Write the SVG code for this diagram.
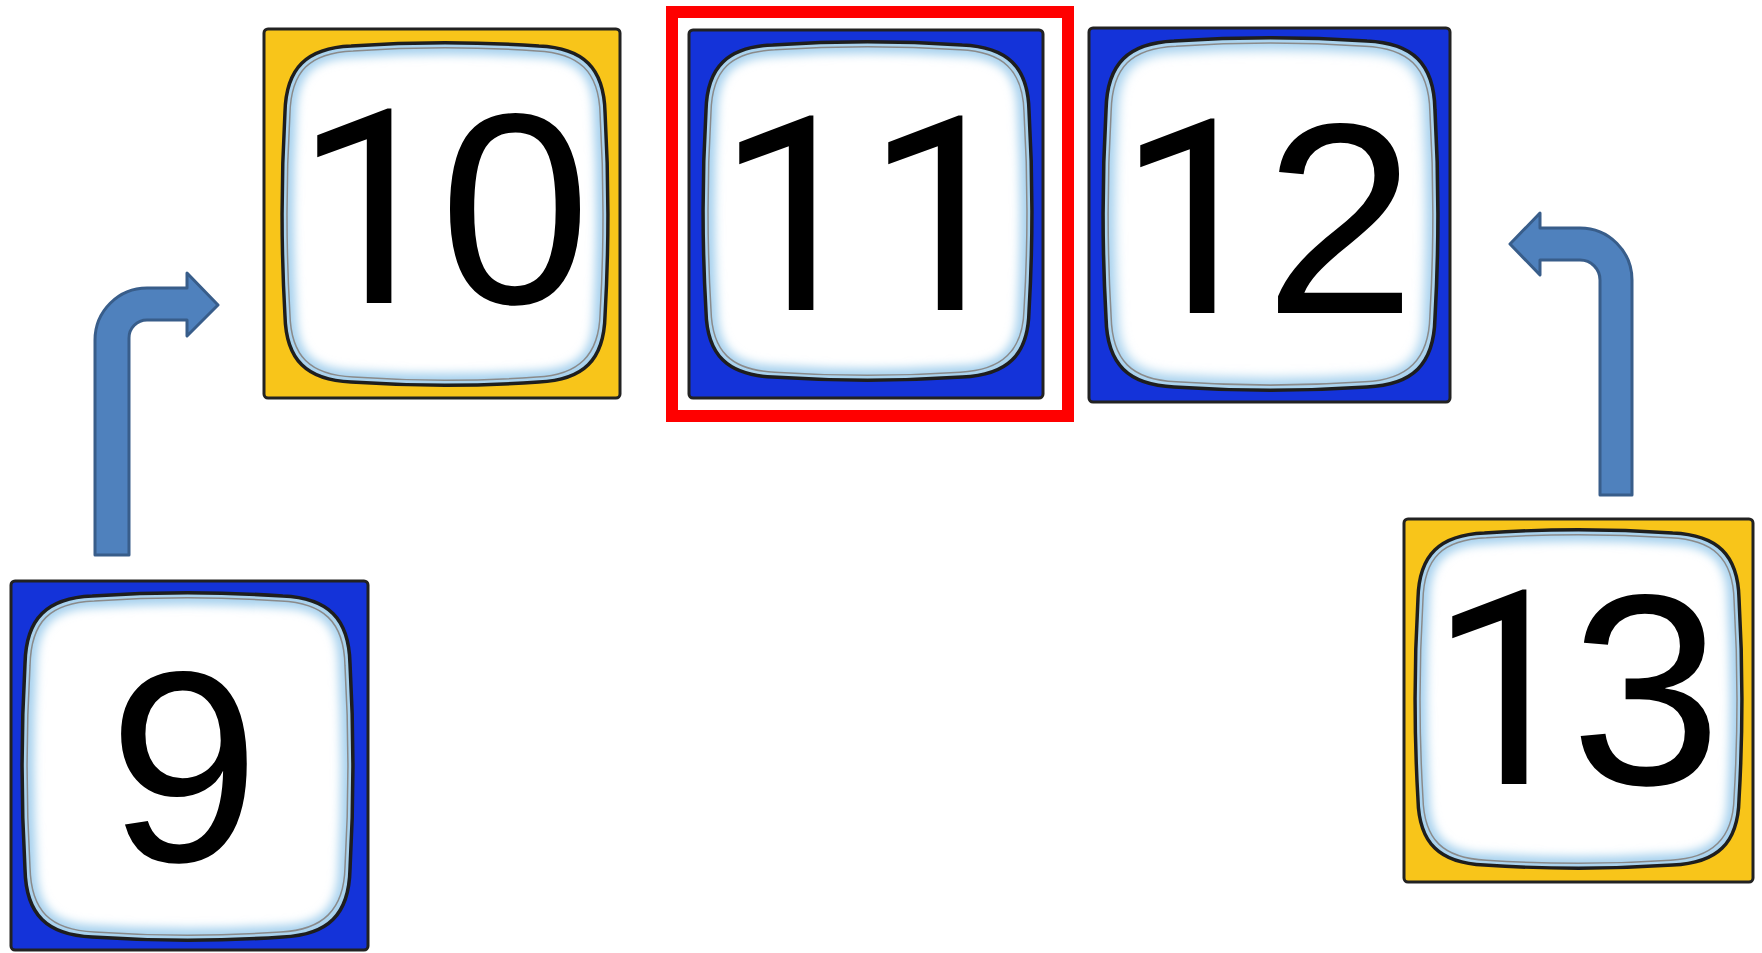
<svg xmlns="http://www.w3.org/2000/svg" width="1762" height="953" viewBox="0 0 1762 953">
<style>
.card-y{fill:#f8c51a;stroke:#222;stroke-width:3}
.card-b{fill:#1433d9;stroke:#222;stroke-width:3}
.num{font-family:"Liberation Sans",Arial,sans-serif;font-size:272px;fill:#000;text-anchor:middle}
.one{font-family:Roboto,"Liberation Sans",Arial,sans-serif}
.arrow{fill:#4f81bd;stroke:#385d8a;stroke-width:3;stroke-linejoin:round}
</style>
<defs>
<filter id="blur" x="-0.1" y="-0.1" width="1.2" height="1.2">
<feGaussianBlur stdDeviation="5"/>
</filter>
<path id="sq" d="M 70 3 C 130 -1, 200 -1, 260 3 C 305 5, 326 25, 327 70 C 331 140, 331 205, 327 275 C 326 320, 305 340, 260 342 C 200 346, 130 346, 70 342 C 25 340, 4 320, 3 275 C -1 205, -1 140, 3 70 C 4 25, 25 5, 70 3 Z"/>
<clipPath id="sqclip"><use href="#sq"/></clipPath>
<symbol id="frame" viewBox="0 0 330 345" preserveAspectRatio="none" overflow="visible">
<use href="#sq" fill="#ffffff"/>
<g clip-path="url(#sqclip)">
<use href="#sq" fill="none" stroke="#a8d2ee" stroke-width="24" filter="url(#blur)"/>
</g>
<use href="#sq" fill="none" stroke="#1e1e1e" stroke-width="3.5"/>
<path d="M 72 8 C 130 4, 200 4, 258 8 C 300 10, 321 28, 322 72 C 326 140, 326 205, 322 273 C 321 315, 300 335, 258 337 C 200 341, 130 341, 72 337 C 28 335, 9 316, 8 273 C 4 205, 4 140, 8 72 C 9 28, 28 10, 72 8 Z" fill="none" stroke="#8a8a8a" stroke-width="1.5"/>
</symbol>
</defs>

<g id="connectors">
<path class="arrow" d="M 95 555 L 95 340 A 52 52 0 0 1 147 288 L 187 288 L 187 273 L 218 305 L 187 336 L 187 320 L 147 320 A 18 18 0 0 0 129 338 L 129 555 Z"/>
<path class="arrow" d="M 1632 495 L 1632 280 A 52 52 0 0 0 1580 228 L 1540 228 L 1540 213 L 1510 244 L 1540 275 L 1540 260 L 1580 260 A 20 20 0 0 1 1600 280 L 1600 495 Z"/>
</g>

<g id="card-10">
<rect class="card-y" x="264" y="29" width="356" height="369" rx="4"/>
<use href="#frame" x="282" y="43" width="326" height="342"/>
<text class="num" y="303"><tspan class="one" x="371">1</tspan><tspan x="515">0</tspan></text>
</g>

<g id="card-11">
<rect x="672" y="12" width="396" height="404" fill="none" stroke="#ff0000" stroke-width="12"/>
<rect class="card-b" x="689" y="30" width="354" height="368" rx="4"/>
<use href="#frame" x="703" y="42" width="329" height="338"/>
<text class="num" y="310"><tspan class="one" x="793">1</tspan><tspan class="one" x="942">1</tspan></text>
</g>

<g id="card-12">
<rect class="card-b" x="1089" y="28" width="361" height="374" rx="4"/>
<use href="#frame" x="1103" y="38" width="335" height="352"/>
<text class="num" y="313"><tspan class="one" x="1194">1</tspan><tspan x="1340">2</tspan></text>
</g>

<g id="card-9">
<rect class="card-b" x="11" y="581" width="357" height="369" rx="4"/>
<use href="#frame" x="22" y="593" width="331" height="347"/>
<text class="num" x="184" y="861">9</text>
</g>

<g id="card-13">
<rect class="card-y" x="1404" y="519" width="349" height="363" rx="4"/>
<use href="#frame" x="1415" y="530" width="327" height="338"/>
<text class="num" y="784"><tspan class="one" x="1506">1</tspan><tspan x="1646">3</tspan></text>
</g>
</svg>
